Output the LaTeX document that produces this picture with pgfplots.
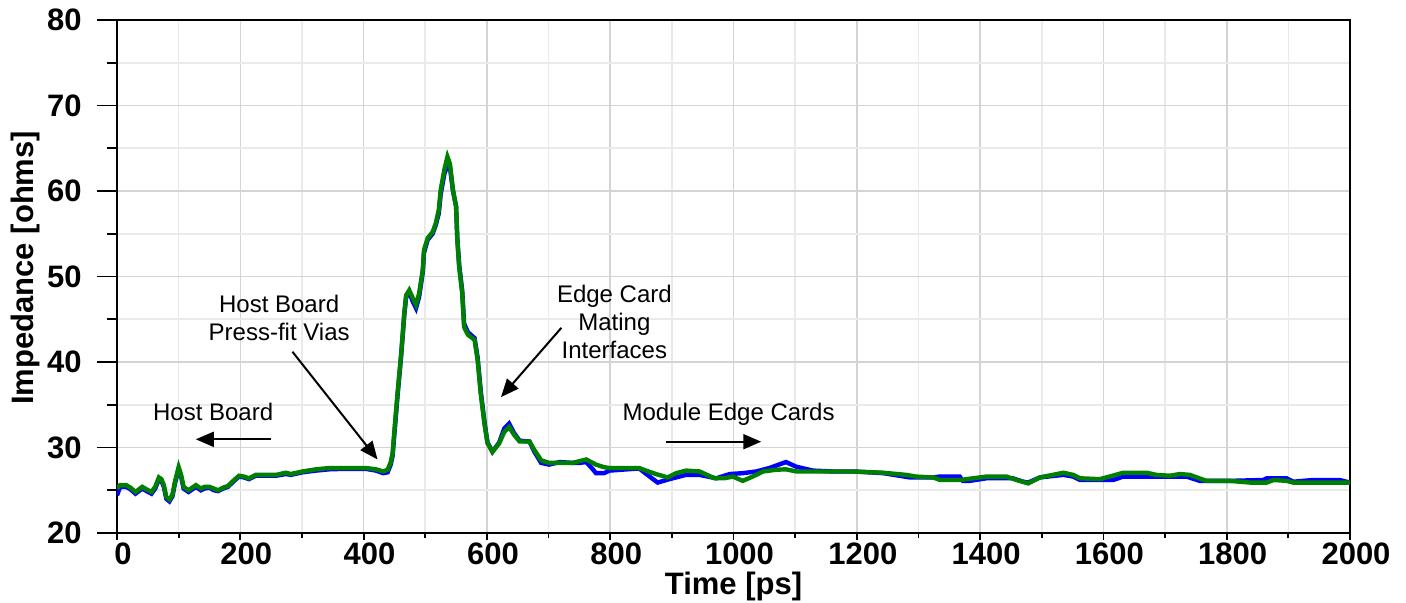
\documentclass[border=0pt]{standalone}
\usepackage{fontspec}
\setmainfont{Liberation Sans}
\usepackage{pgfplots}
\pgfplotsset{compat=1.18}
\usetikzlibrary{arrows.meta}
\definecolor{majgrid}{RGB}{212,212,212}
\definecolor{mingrid}{RGB}{234,234,234}
\definecolor{tdrblue}{RGB}{0,0,255}
\definecolor{tdrgreen}{RGB}{0,128,0}
\begin{document}
\begin{tikzpicture}
\begin{axis}[
  scale only axis, width=616.5pt, height=256.5pt,
  xmin=0, xmax=2000, ymin=20, ymax=80,
  xtick={0,200,...,2000}, ytick={20,30,...,80},
  minor x tick num=1, minor y tick num=1,
  grid=both,
  major grid style={majgrid, line width=0.8pt},
  minor grid style={mingrid, line width=0.8pt},
  tick align=outside, major tick length=10pt, minor tick length=5pt,
  xtick pos=bottom, ytick pos=left,
  xtick style={draw=none},
  tick style={black, line width=0.9pt},
  axis line style={black, line width=1.2pt},
  /pgf/number format/assume math mode=true,
  /pgf/number format/set thousands separator={},
  ticklabel style={font=\fontsize{15.5}{18}\selectfont\bfseries},
  xticklabel style={anchor=base, yshift=-5.5pt, xshift=3pt},
  yticklabel style={anchor=east, inner sep=0pt, xshift=-7.5pt},
  xlabel={Time [ps]}, ylabel={Impedance [ohms]},
  label style={font=\fontsize{15.5}{18}\selectfont\bfseries},
  xlabel style={at={(axis description cs:0.5,0)}, anchor=base, yshift=-30.5pt},
  ylabel style={at={(axis description cs:-0.0681,0.517)}, anchor=base},
]
\addplot[tdrblue, line width=2.2pt] coordinates {
(0,24.4)(5,25.4)(15,25.4)(22,25.1)(30,24.6)(41,25.2)(48,24.9)(56,24.6)(62,25.2)(68,26.3)(72,26.1)(76,25.4)(80,24.0)(85,23.7)(90,24.3)(94,25.8)(100,27.5)(104,26.6)(108,25.2)(116,24.8)(124,25.2)(128,25.4)(136,25.0)(142,25.2)(150,25.3)(157,25.0)(164,24.9)(172,25.2)(180,25.4)(190,26.1)(198,26.6)(206,26.5)(214,26.3)(225,26.7)(240,26.7)(258,26.7)(274,26.9)(282,26.8)(301,27.1)(323,27.3)(344,27.45)(366,27.5)(404,27.5)(420,27.3)(432,27.0)(439,27.1)(444,28.0)(447,29.0)(450,31.6)(455,36.0)(461,40.8)(466,45.5)(469,47.6)(474,48.2)(479,47.2)(485,46.3)(490,47.6)(496,50.5)(498,52.8)(504,54.3)(512,55.0)(517,56.0)(522,57.4)(525,59.6)(531,62.0)(536,63.0)(540,62.8)(545,60.0)(550,58.2)(552,54.5)(555,51.4)(560,48.3)(563,44.5)(569,43.5)(580,42.8)(585,40.5)(590,36.6)(596,33.0)(601,30.6)(609,29.5)(620,30.6)(628,32.2)(636,32.8)(644,31.7)(653,30.8)(669,30.7)(677,29.5)(688,28.2)(701,28.0)(718,28.3)(739,28.2)(750,28.2)(761,28.3)(770,27.6)(777,27.0)(790,27.0)(799,27.3)(847,27.55)(864,26.6)(877,25.9)(896,26.3)(923,26.8)(945,26.8)(972,26.4)(994,26.9)(1015,27.0)(1037,27.2)(1058,27.6)(1085,28.3)(1102,27.75)(1129,27.3)(1161,27.2)(1194,27.2)(1243,27.0)(1286,26.5)(1324,26.5)(1334,26.6)(1367,26.6)(1372,26.1)(1383,26.1)(1410,26.4)(1453,26.4)(1470,26.0)(1478,25.9)(1497,26.5)(1535,26.8)(1551,26.6)(1562,26.2)(1594,26.2)(1616,26.2)(1632,26.6)(1670,26.6)(1708,26.6)(1735,26.6)(1756,26.1)(1805,26.1)(1859,26.2)(1865,26.4)(1897,26.4)(1908,26.0)(1940,26.2)(1983,26.2)(2000,25.9)
};
\addplot[tdrgreen, line width=2.2pt] coordinates {
(0,25.2)(5,25.6)(15,25.6)(22,25.3)(30,24.8)(41,25.4)(48,25.1)(56,24.8)(62,25.4)(68,26.5)(72,26.3)(76,25.6)(80,24.2)(85,23.9)(90,24.5)(94,26.0)(100,27.7)(104,26.8)(108,25.4)(116,25.0)(124,25.4)(128,25.6)(136,25.2)(142,25.4)(150,25.4)(157,25.2)(164,25.0)(172,25.3)(180,25.5)(190,26.2)(198,26.7)(206,26.6)(214,26.4)(225,26.8)(240,26.8)(258,26.8)(274,27.05)(282,26.9)(301,27.2)(323,27.45)(344,27.6)(366,27.6)(404,27.6)(420,27.45)(432,27.2)(439,27.4)(444,28.3)(447,29.3)(450,32.0)(455,36.3)(461,41.0)(466,45.7)(469,47.8)(474,48.4)(479,47.6)(485,46.7)(490,48.0)(496,50.8)(498,53.1)(504,54.5)(512,55.2)(517,56.2)(522,57.8)(525,60.1)(531,62.5)(536,64.0)(540,63.2)(545,60.1)(550,58.2)(552,54.3)(555,51.1)(560,48.0)(563,44.1)(569,43.2)(580,42.6)(585,40.2)(590,36.3)(596,32.8)(601,30.5)(609,29.5)(620,30.5)(628,31.8)(636,32.4)(644,31.5)(653,30.7)(669,30.7)(677,29.7)(688,28.5)(701,28.2)(718,28.2)(739,28.2)(761,28.6)(777,28.0)(790,27.7)(799,27.6)(847,27.6)(858,27.3)(874,26.9)(893,26.5)(907,27.0)(923,27.3)(945,27.2)(969,26.4)(985,26.4)(999,26.6)(1015,26.1)(1031,26.6)(1048,27.2)(1069,27.4)(1085,27.45)(1102,27.2)(1129,27.2)(1161,27.2)(1194,27.2)(1243,27.05)(1280,26.8)(1296,26.6)(1324,26.5)(1335,26.2)(1367,26.2)(1378,26.3)(1410,26.6)(1443,26.6)(1459,26.2)(1478,25.8)(1497,26.5)(1518,26.8)(1535,27.05)(1551,26.8)(1562,26.4)(1594,26.3)(1610,26.6)(1632,27.05)(1670,27.05)(1686,26.8)(1708,26.7)(1724,26.9)(1740,26.8)(1767,26.1)(1805,26.1)(1838,25.9)(1865,25.9)(1876,26.2)(1897,26.1)(1908,25.9)(2000,25.9)
};
\tikzset{annot/.style={font=\fontsize{12}{14}\selectfont, align=center, inner sep=0pt},
  annarrow/.style={black, line width=1pt, -{Triangle[length=9pt,width=7.5pt]}}}
\node[annot] at (156,34.2) {Host Board};
\draw[annarrow] (249.5,30.96) -- (127.8,30.96);
\node[annot] at (263,45.1) {Host Board\\Press-fit Vias};
\draw[annarrow] (284.6,41.2) -- (422.6,28.6);
\node[annot] at (806.8,44.7) {Edge Card\\Mating\\Interfaces};
\draw[annarrow] (720.8,44.0) -- (622.9,35.9);
\node[annot] at (992,33.9) {Module Edge Cards};
\draw[annarrow] (890.8,30.68) -- (1045,30.68);
\end{axis}
\begin{axis}[
  scale only axis, width=616.5pt, height=256.5pt,
  xmin=0, xmax=2000, ymin=20, ymax=80,
  xtick={0,200,...,2000}, minor x tick num=1,
  ytick=\empty, xticklabels=\empty,
  tick align=outside, xtick pos=bottom,
  major tick length=3.5pt, minor tick length=2.5pt,
  axis line style={draw=none},
  tick style={black, line width=0.9pt},
]
\end{axis}
\pgfresetboundingbox
\path (-58.5pt,-34.5pt) rectangle (644.5pt,266.5pt);
\end{tikzpicture}
\end{document}
